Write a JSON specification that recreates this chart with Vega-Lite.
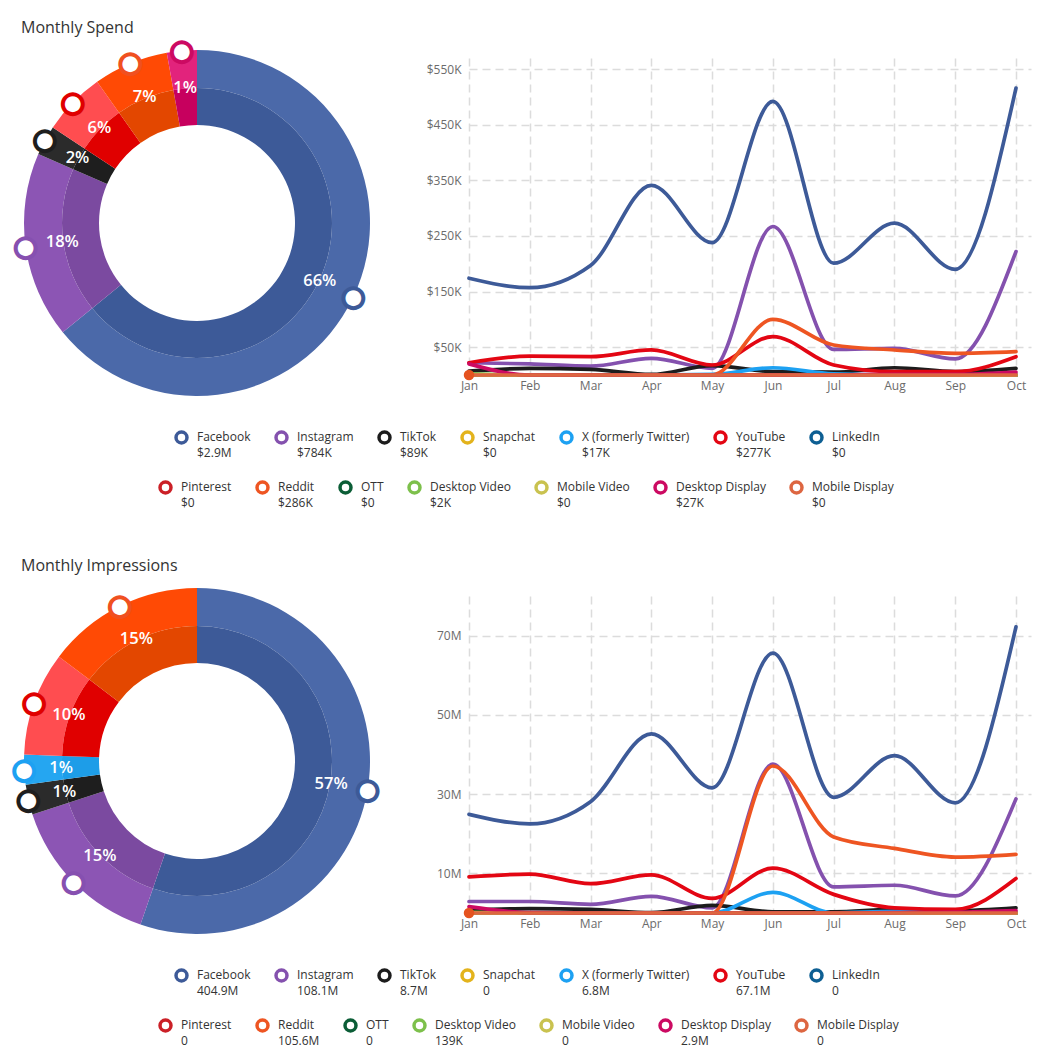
{
"$schema": "https://vega.github.io/schema/vega-lite/v6.json",
"background": "white",
"padding": {"left": 12, "top": 19, "right": 5, "bottom": 5},
"config": {
  "view": {"stroke": null},
  "font": "Open Sans",
  "axis": {"domain": false, "ticks": false, "labelFont": "Open Sans", "labelFontSize": 12, "labelColor": "#6b6b6b", "gridColor": "#dcdcdc", "gridDash": [8, 5], "gridWidth": 1.5, "labelFlush": false, "labelOverlap": false, "title": null},
  "axisY": {"labelPadding": 8},
  "axisX": {"labelPadding": 5},
  "legend": {"orient": "none", "direction": "horizontal", "columns": 7, "symbolType": "circle", "symbolSize": 120, "symbolStrokeWidth": 3.5, "symbolFillColor": "white", "labelFont": "Open Sans", "labelFontSize": 12, "labelColor": "#333333", "labelBaseline": "alphabetic", "columnPadding": 18, "labelOffset": 8, "padding": 0, "title": null, "labelLimit": 300},
  "title": {"font": "Open Sans", "fontSize": 16, "fontWeight": 500, "color": "#333333", "anchor": "start", "frame": "group"}
},
"datasets": {
  "spendTot": [{"c":"Facebook","t":"$2.9M"},{"c":"Instagram","t":"$784K"},{"c":"TikTok","t":"$89K"},{"c":"Snapchat","t":"$0"},{"c":"X (formerly Twitter)","t":"$17K"},{"c":"YouTube","t":"$277K"},{"c":"LinkedIn","t":"$0"},{"c":"Pinterest","t":"$0"},{"c":"Reddit","t":"$286K"},{"c":"OTT","t":"$0"},{"c":"Desktop Video","t":"$2K"},{"c":"Mobile Video","t":"$0"},{"c":"Desktop Display","t":"$27K"},{"c":"Mobile Display","t":"$0"}],
  "impTot": [{"c":"Facebook","t":"404.9M"},{"c":"Instagram","t":"108.1M"},{"c":"TikTok","t":"8.7M"},{"c":"Snapchat","t":"0"},{"c":"X (formerly Twitter)","t":"6.8M"},{"c":"YouTube","t":"67.1M"},{"c":"LinkedIn","t":"0"},{"c":"Pinterest","t":"0"},{"c":"Reddit","t":"105.6M"},{"c":"OTT","t":"0"},{"c":"Desktop Video","t":"139K"},{"c":"Mobile Video","t":"0"},{"c":"Desktop Display","t":"2.9M"},{"c":"Mobile Display","t":"0"}],
  "spendPie": [{"c":"Facebook","k":0,"s":64.2,"p":"66%"},{"c":"Instagram","k":1,"s":17.4,"p":"18%"},{"c":"TikTok","k":2,"s":2.8,"p":"2%"},{"c":"YouTube","k":5,"s":5.9,"p":"6%"},{"c":"Reddit","k":8,"s":7.0,"p":"7%"},{"c":"Desktop Display","k":12,"s":2.8,"p":"1%"}],
  "impPie": [{"c":"Facebook","k":0,"s":55.3,"p":"57%"},{"c":"Instagram","k":1,"s":14.7,"p":"15%"},{"c":"TikTok","k":2,"s":2.8,"p":"1%"},{"c":"X (formerly Twitter)","k":4,"s":2.8,"p":"1%"},{"c":"YouTube","k":5,"s":9.7,"p":"10%"},{"c":"Reddit","k":8,"s":14.7,"p":"15%"}],
  "spend": [
    {"c":"Facebook","i":0,"v":174},{"c":"Facebook","i":1,"v":157},{"c":"Facebook","i":2,"v":197},{"c":"Facebook","i":3,"v":341},{"c":"Facebook","i":4,"v":238},{"c":"Facebook","i":5,"v":492},{"c":"Facebook","i":6,"v":201},{"c":"Facebook","i":7,"v":273},{"c":"Facebook","i":8,"v":190},{"c":"Facebook","i":9,"v":516},
    {"c":"Instagram","i":0,"v":22},{"c":"Instagram","i":1,"v":20},{"c":"Instagram","i":2,"v":16},{"c":"Instagram","i":3,"v":30},{"c":"Instagram","i":4,"v":12},{"c":"Instagram","i":5,"v":267},{"c":"Instagram","i":6,"v":46},{"c":"Instagram","i":7,"v":48},{"c":"Instagram","i":8,"v":29},{"c":"Instagram","i":9,"v":222},
    {"c":"TikTok","i":0,"v":7},{"c":"TikTok","i":1,"v":12},{"c":"TikTok","i":2,"v":10},{"c":"TikTok","i":3,"v":1},{"c":"TikTok","i":4,"v":17},{"c":"TikTok","i":5,"v":6},{"c":"TikTok","i":6,"v":5},{"c":"TikTok","i":7,"v":13},{"c":"TikTok","i":8,"v":6},{"c":"TikTok","i":9,"v":12},
    {"c":"Snapchat","i":0,"v":0},{"c":"Snapchat","i":1,"v":0},{"c":"Snapchat","i":2,"v":0},{"c":"Snapchat","i":3,"v":0},{"c":"Snapchat","i":4,"v":0},{"c":"Snapchat","i":5,"v":0},{"c":"Snapchat","i":6,"v":0},{"c":"Snapchat","i":7,"v":0},{"c":"Snapchat","i":8,"v":0},{"c":"Snapchat","i":9,"v":0},
    {"c":"X (formerly Twitter)","i":0,"v":0},{"c":"X (formerly Twitter)","i":1,"v":0},{"c":"X (formerly Twitter)","i":2,"v":0},{"c":"X (formerly Twitter)","i":3,"v":0},{"c":"X (formerly Twitter)","i":4,"v":1},{"c":"X (formerly Twitter)","i":5,"v":13},{"c":"X (formerly Twitter)","i":6,"v":2},{"c":"X (formerly Twitter)","i":7,"v":0},{"c":"X (formerly Twitter)","i":8,"v":0},{"c":"X (formerly Twitter)","i":9,"v":0},
    {"c":"YouTube","i":0,"v":22},{"c":"YouTube","i":1,"v":34},{"c":"YouTube","i":2,"v":33},{"c":"YouTube","i":3,"v":45},{"c":"YouTube","i":4,"v":18},{"c":"YouTube","i":5,"v":69},{"c":"YouTube","i":6,"v":18},{"c":"YouTube","i":7,"v":6},{"c":"YouTube","i":8,"v":6},{"c":"YouTube","i":9,"v":33},
    {"c":"LinkedIn","i":0,"v":0},{"c":"LinkedIn","i":1,"v":0},{"c":"LinkedIn","i":2,"v":0},{"c":"LinkedIn","i":3,"v":0},{"c":"LinkedIn","i":4,"v":0},{"c":"LinkedIn","i":5,"v":0},{"c":"LinkedIn","i":6,"v":0},{"c":"LinkedIn","i":7,"v":0},{"c":"LinkedIn","i":8,"v":0},{"c":"LinkedIn","i":9,"v":0},
    {"c":"Pinterest","i":0,"v":0},{"c":"Pinterest","i":1,"v":0},{"c":"Pinterest","i":2,"v":0},{"c":"Pinterest","i":3,"v":0},{"c":"Pinterest","i":4,"v":0},{"c":"Pinterest","i":5,"v":0},{"c":"Pinterest","i":6,"v":0},{"c":"Pinterest","i":7,"v":0},{"c":"Pinterest","i":8,"v":0},{"c":"Pinterest","i":9,"v":0},
    {"c":"Reddit","i":0,"v":0},{"c":"Reddit","i":1,"v":0},{"c":"Reddit","i":2,"v":0},{"c":"Reddit","i":3,"v":0},{"c":"Reddit","i":4,"v":0},{"c":"Reddit","i":5,"v":100},{"c":"Reddit","i":6,"v":54},{"c":"Reddit","i":7,"v":45},{"c":"Reddit","i":8,"v":39},{"c":"Reddit","i":9,"v":42},
    {"c":"OTT","i":0,"v":0},{"c":"OTT","i":1,"v":0},{"c":"OTT","i":2,"v":0},{"c":"OTT","i":3,"v":0},{"c":"OTT","i":4,"v":0},{"c":"OTT","i":5,"v":0},{"c":"OTT","i":6,"v":0},{"c":"OTT","i":7,"v":0},{"c":"OTT","i":8,"v":0},{"c":"OTT","i":9,"v":0},
    {"c":"Desktop Video","i":0,"v":2},{"c":"Desktop Video","i":1,"v":0},{"c":"Desktop Video","i":2,"v":0},{"c":"Desktop Video","i":3,"v":0},{"c":"Desktop Video","i":4,"v":0},{"c":"Desktop Video","i":5,"v":0},{"c":"Desktop Video","i":6,"v":0},{"c":"Desktop Video","i":7,"v":0},{"c":"Desktop Video","i":8,"v":0},{"c":"Desktop Video","i":9,"v":0},
    {"c":"Mobile Video","i":0,"v":0},{"c":"Mobile Video","i":1,"v":0},{"c":"Mobile Video","i":2,"v":0},{"c":"Mobile Video","i":3,"v":0},{"c":"Mobile Video","i":4,"v":0},{"c":"Mobile Video","i":5,"v":0},{"c":"Mobile Video","i":6,"v":0},{"c":"Mobile Video","i":7,"v":0},{"c":"Mobile Video","i":8,"v":0},{"c":"Mobile Video","i":9,"v":0},
    {"c":"Desktop Display","i":0,"v":20},{"c":"Desktop Display","i":1,"v":0},{"c":"Desktop Display","i":2,"v":0},{"c":"Desktop Display","i":3,"v":0},{"c":"Desktop Display","i":4,"v":0},{"c":"Desktop Display","i":5,"v":0},{"c":"Desktop Display","i":6,"v":0},{"c":"Desktop Display","i":7,"v":1},{"c":"Desktop Display","i":8,"v":1},{"c":"Desktop Display","i":9,"v":5},
    {"c":"Mobile Display","i":0,"v":0},{"c":"Mobile Display","i":1,"v":0},{"c":"Mobile Display","i":2,"v":0},{"c":"Mobile Display","i":3,"v":0},{"c":"Mobile Display","i":4,"v":0},{"c":"Mobile Display","i":5,"v":0},{"c":"Mobile Display","i":6,"v":0},{"c":"Mobile Display","i":7,"v":0},{"c":"Mobile Display","i":8,"v":0},{"c":"Mobile Display","i":9,"v":0}
  ],
  "imp": [
    {"c":"Facebook","i":0,"v":24.9},{"c":"Facebook","i":1,"v":22.5},{"c":"Facebook","i":2,"v":28.1},{"c":"Facebook","i":3,"v":45.2},{"c":"Facebook","i":4,"v":31.6},{"c":"Facebook","i":5,"v":65.6},{"c":"Facebook","i":6,"v":29.2},{"c":"Facebook","i":7,"v":39.7},{"c":"Facebook","i":8,"v":27.8},{"c":"Facebook","i":9,"v":72.2},
    {"c":"Instagram","i":0,"v":2.9},{"c":"Instagram","i":1,"v":2.9},{"c":"Instagram","i":2,"v":2.2},{"c":"Instagram","i":3,"v":4.2},{"c":"Instagram","i":4,"v":1.3},{"c":"Instagram","i":5,"v":37.6},{"c":"Instagram","i":6,"v":6.6},{"c":"Instagram","i":7,"v":7.0},{"c":"Instagram","i":8,"v":4.3},{"c":"Instagram","i":9,"v":28.8},
    {"c":"TikTok","i":0,"v":0.7},{"c":"TikTok","i":1,"v":1.1},{"c":"TikTok","i":2,"v":0.9},{"c":"TikTok","i":3,"v":0.1},{"c":"TikTok","i":4,"v":1.9},{"c":"TikTok","i":5,"v":0.3},{"c":"TikTok","i":6,"v":0.3},{"c":"TikTok","i":7,"v":0.9},{"c":"TikTok","i":8,"v":0.6},{"c":"TikTok","i":9,"v":1.3},
    {"c":"Snapchat","i":0,"v":0},{"c":"Snapchat","i":1,"v":0},{"c":"Snapchat","i":2,"v":0},{"c":"Snapchat","i":3,"v":0},{"c":"Snapchat","i":4,"v":0},{"c":"Snapchat","i":5,"v":0},{"c":"Snapchat","i":6,"v":0},{"c":"Snapchat","i":7,"v":0},{"c":"Snapchat","i":8,"v":0},{"c":"Snapchat","i":9,"v":0},
    {"c":"X (formerly Twitter)","i":0,"v":0},{"c":"X (formerly Twitter)","i":1,"v":0},{"c":"X (formerly Twitter)","i":2,"v":0},{"c":"X (formerly Twitter)","i":3,"v":0},{"c":"X (formerly Twitter)","i":4,"v":0},{"c":"X (formerly Twitter)","i":5,"v":5.2},{"c":"X (formerly Twitter)","i":6,"v":0},{"c":"X (formerly Twitter)","i":7,"v":0.4},{"c":"X (formerly Twitter)","i":8,"v":0},{"c":"X (formerly Twitter)","i":9,"v":0},
    {"c":"YouTube","i":0,"v":9.1},{"c":"YouTube","i":1,"v":9.8},{"c":"YouTube","i":2,"v":7.4},{"c":"YouTube","i":3,"v":9.6},{"c":"YouTube","i":4,"v":3.7},{"c":"YouTube","i":5,"v":11.3},{"c":"YouTube","i":6,"v":4.7},{"c":"YouTube","i":7,"v":1.3},{"c":"YouTube","i":8,"v":0.9},{"c":"YouTube","i":9,"v":8.7},
    {"c":"LinkedIn","i":0,"v":0},{"c":"LinkedIn","i":1,"v":0},{"c":"LinkedIn","i":2,"v":0},{"c":"LinkedIn","i":3,"v":0},{"c":"LinkedIn","i":4,"v":0},{"c":"LinkedIn","i":5,"v":0},{"c":"LinkedIn","i":6,"v":0},{"c":"LinkedIn","i":7,"v":0},{"c":"LinkedIn","i":8,"v":0},{"c":"LinkedIn","i":9,"v":0},
    {"c":"Pinterest","i":0,"v":0},{"c":"Pinterest","i":1,"v":0},{"c":"Pinterest","i":2,"v":0},{"c":"Pinterest","i":3,"v":0},{"c":"Pinterest","i":4,"v":0},{"c":"Pinterest","i":5,"v":0},{"c":"Pinterest","i":6,"v":0},{"c":"Pinterest","i":7,"v":0},{"c":"Pinterest","i":8,"v":0},{"c":"Pinterest","i":9,"v":0},
    {"c":"Reddit","i":0,"v":0},{"c":"Reddit","i":1,"v":0},{"c":"Reddit","i":2,"v":0},{"c":"Reddit","i":3,"v":0},{"c":"Reddit","i":4,"v":0},{"c":"Reddit","i":5,"v":37.1},{"c":"Reddit","i":6,"v":19.2},{"c":"Reddit","i":7,"v":16.3},{"c":"Reddit","i":8,"v":14.1},{"c":"Reddit","i":9,"v":14.8},
    {"c":"OTT","i":0,"v":0},{"c":"OTT","i":1,"v":0},{"c":"OTT","i":2,"v":0},{"c":"OTT","i":3,"v":0},{"c":"OTT","i":4,"v":0},{"c":"OTT","i":5,"v":0},{"c":"OTT","i":6,"v":0},{"c":"OTT","i":7,"v":0},{"c":"OTT","i":8,"v":0},{"c":"OTT","i":9,"v":0},
    {"c":"Desktop Video","i":0,"v":0.14},{"c":"Desktop Video","i":1,"v":0},{"c":"Desktop Video","i":2,"v":0},{"c":"Desktop Video","i":3,"v":0},{"c":"Desktop Video","i":4,"v":0},{"c":"Desktop Video","i":5,"v":0},{"c":"Desktop Video","i":6,"v":0},{"c":"Desktop Video","i":7,"v":0},{"c":"Desktop Video","i":8,"v":0},{"c":"Desktop Video","i":9,"v":0},
    {"c":"Mobile Video","i":0,"v":0},{"c":"Mobile Video","i":1,"v":0},{"c":"Mobile Video","i":2,"v":0},{"c":"Mobile Video","i":3,"v":0},{"c":"Mobile Video","i":4,"v":0},{"c":"Mobile Video","i":5,"v":0},{"c":"Mobile Video","i":6,"v":0},{"c":"Mobile Video","i":7,"v":0},{"c":"Mobile Video","i":8,"v":0},{"c":"Mobile Video","i":9,"v":0},
    {"c":"Desktop Display","i":0,"v":1.6},{"c":"Desktop Display","i":1,"v":0.1},{"c":"Desktop Display","i":2,"v":0},{"c":"Desktop Display","i":3,"v":0},{"c":"Desktop Display","i":4,"v":0},{"c":"Desktop Display","i":5,"v":0},{"c":"Desktop Display","i":6,"v":0},{"c":"Desktop Display","i":7,"v":0.1},{"c":"Desktop Display","i":8,"v":0.2},{"c":"Desktop Display","i":9,"v":0.6},
    {"c":"Mobile Display","i":0,"v":0},{"c":"Mobile Display","i":1,"v":0},{"c":"Mobile Display","i":2,"v":0},{"c":"Mobile Display","i":3,"v":0},{"c":"Mobile Display","i":4,"v":0},{"c":"Mobile Display","i":5,"v":0},{"c":"Mobile Display","i":6,"v":0},{"c":"Mobile Display","i":7,"v":0},{"c":"Mobile Display","i":8,"v":0},{"c":"Mobile Display","i":9,"v":0}
  ]
},
"columns": 2,
"bounds": "flush",
"spacing": {"row": 208, "column": 99},
"resolve": {"scale": {"color": "independent", "stroke": "independent", "fill": "independent", "theta": "independent", "x": "independent", "y": "independent"}, "legend": {"color": "independent", "stroke": "independent"}},
"concat": [
  {
    "width": 346, "height": 330,
    "title": {"text": "Monthly Spend", "offset": 2, "dx": -3},
    "data": {"name": "spendPie"},
    "encoding": {
      "theta": {"field": "s", "type": "quantitative", "stack": true},
      "order": {"field": "k", "type": "quantitative"},
      "detail": {"field": "c", "type": "nominal"}
    },
    "layer": [
      {"mark": {"type": "arc", "outerRadius": 173, "innerRadius": 135}, "encoding": {"fill": {"field": "c", "type": "nominal", "legend": null, "scale": {"domain": ["Facebook","Instagram","TikTok","X (formerly Twitter)","YouTube","Reddit","Desktop Display"], "range": ["#4b69a9","#8c55b4","#2b2b2b","#25a6f1","#ff4d50","#ff4a05","#e2237c"]}}}},
      {"mark": {"type": "arc", "outerRadius": 135, "innerRadius": 98}, "encoding": {"color": {"field": "c", "type": "nominal", "legend": null, "scale": {"domain": ["Facebook","Instagram","TikTok","X (formerly Twitter)","YouTube","Reddit","Desktop Display"], "range": ["#3d5a98","#7b4aa0","#1e1e1e","#1d9de8","#e00000","#e34700","#c7005e"]}}}},
      {"mark": {"type": "text", "radius": 136, "fill": "white", "fontSize": 16.5, "fontWeight": 600, "font": "Open Sans", "align": "center", "baseline": "middle"}, "encoding": {"text": {"field": "p", "type": "nominal"}}},
      {"mark": {"type": "text", "radius": 173, "text": "●", "fill": "white", "strokeWidth": 4, "fontSize": 26, "font": "DejaVu Sans", "align": "center", "baseline": "middle"}, "encoding": {"stroke": {"field": "c", "type": "nominal", "legend": null, "scale": {"domain": ["Facebook","Instagram","TikTok","X (formerly Twitter)","YouTube","Reddit","Desktop Display"], "range": ["#3d5a98","#8650b0","#1e1e1e","#1da1f2","#e00000","#f05020","#cc0a62"]}}}}
    ]
  },
  {
    "width": 562, "height": 317,
    "data": {"name": "spend"},
    "transform": [
      {"lookup": "c", "from": {"data": {"name": "spendTot"}, "key": "c", "fields": ["t"]}},
      {"calculate": "datum.c + '|' + datum.t", "as": "key"}
    ],
    "encoding": {
      "x": {"field": "i", "type": "quantitative", "title": null, "scale": {"domain": [0, 9.247], "nice": false, "zero": false}, "axis": {"values": [0,1,2,3,4,5,6,7,8,9], "labelExpr": "['Jan','Feb','Mar','Apr','May','Jun','Jul','Aug','Sep','Oct'][datum.value]", "grid": true}},
      "y": {"field": "v", "type": "quantitative", "title": null, "scale": {"domain": [0, 570], "nice": false}, "axis": {"values": [50,150,250,350,450,550], "labelExpr": "'$' + datum.value + 'K'", "grid": true}}
    },
    "layer": [
      {"data": {"values": [{}]}, "mark": {"type": "rect", "stroke": "#b4dfee", "strokeWidth": 1, "fill": {"gradient": "linear", "x1": 0, "y1": 0, "x2": 0.0473, "y2": 1, "stops": [
        {"offset":0,"color":"#a9d9ea"},{"offset":0.008,"color":"#a9d9ea"},{"offset":0.008,"color":"#ffffff"},{"offset":0.025,"color":"#ffffff"},
        {"offset":0.025,"color":"#a9d9ea"},{"offset":0.033,"color":"#a9d9ea"},{"offset":0.033,"color":"#ffffff"},{"offset":0.05,"color":"#ffffff"},
        {"offset":0.05,"color":"#a9d9ea"},{"offset":0.058,"color":"#a9d9ea"},{"offset":0.058,"color":"#ffffff"},{"offset":0.075,"color":"#ffffff"},
        {"offset":0.075,"color":"#a9d9ea"},{"offset":0.083,"color":"#a9d9ea"},{"offset":0.083,"color":"#ffffff"},{"offset":0.1,"color":"#ffffff"},
        {"offset":0.1,"color":"#a9d9ea"},{"offset":0.108,"color":"#a9d9ea"},{"offset":0.108,"color":"#ffffff"},{"offset":0.125,"color":"#ffffff"},
        {"offset":0.125,"color":"#a9d9ea"},{"offset":0.133,"color":"#a9d9ea"},{"offset":0.133,"color":"#ffffff"},{"offset":0.15,"color":"#ffffff"},
        {"offset":0.15,"color":"#a9d9ea"},{"offset":0.158,"color":"#a9d9ea"},{"offset":0.158,"color":"#ffffff"},{"offset":0.175,"color":"#ffffff"},
        {"offset":0.175,"color":"#a9d9ea"},{"offset":0.183,"color":"#a9d9ea"},{"offset":0.183,"color":"#ffffff"},{"offset":0.2,"color":"#ffffff"},
        {"offset":0.2,"color":"#a9d9ea"},{"offset":0.208,"color":"#a9d9ea"},{"offset":0.208,"color":"#ffffff"},{"offset":0.225,"color":"#ffffff"},
        {"offset":0.225,"color":"#a9d9ea"},{"offset":0.233,"color":"#a9d9ea"},{"offset":0.233,"color":"#ffffff"},{"offset":0.25,"color":"#ffffff"},
        {"offset":0.25,"color":"#a9d9ea"},{"offset":0.258,"color":"#a9d9ea"},{"offset":0.258,"color":"#ffffff"},{"offset":0.275,"color":"#ffffff"},
        {"offset":0.275,"color":"#a9d9ea"},{"offset":0.283,"color":"#a9d9ea"},{"offset":0.283,"color":"#ffffff"},{"offset":0.3,"color":"#ffffff"},
        {"offset":0.3,"color":"#a9d9ea"},{"offset":0.308,"color":"#a9d9ea"},{"offset":0.308,"color":"#ffffff"},{"offset":0.325,"color":"#ffffff"},
        {"offset":0.325,"color":"#a9d9ea"},{"offset":0.333,"color":"#a9d9ea"},{"offset":0.333,"color":"#ffffff"},{"offset":0.35,"color":"#ffffff"},
        {"offset":0.35,"color":"#a9d9ea"},{"offset":0.358,"color":"#a9d9ea"},{"offset":0.358,"color":"#ffffff"},{"offset":0.375,"color":"#ffffff"},
        {"offset":0.375,"color":"#a9d9ea"},{"offset":0.383,"color":"#a9d9ea"},{"offset":0.383,"color":"#ffffff"},{"offset":0.4,"color":"#ffffff"},
        {"offset":0.4,"color":"#a9d9ea"},{"offset":0.408,"color":"#a9d9ea"},{"offset":0.408,"color":"#ffffff"},{"offset":0.425,"color":"#ffffff"},
        {"offset":0.425,"color":"#a9d9ea"},{"offset":0.433,"color":"#a9d9ea"},{"offset":0.433,"color":"#ffffff"},{"offset":0.45,"color":"#ffffff"},
        {"offset":0.45,"color":"#a9d9ea"},{"offset":0.458,"color":"#a9d9ea"},{"offset":0.458,"color":"#ffffff"},{"offset":0.475,"color":"#ffffff"},
        {"offset":0.475,"color":"#a9d9ea"},{"offset":0.483,"color":"#a9d9ea"},{"offset":0.483,"color":"#ffffff"},{"offset":0.5,"color":"#ffffff"},
        {"offset":0.5,"color":"#a9d9ea"},{"offset":0.508,"color":"#a9d9ea"},{"offset":0.508,"color":"#ffffff"},{"offset":0.525,"color":"#ffffff"},
        {"offset":0.525,"color":"#a9d9ea"},{"offset":0.533,"color":"#a9d9ea"},{"offset":0.533,"color":"#ffffff"},{"offset":0.55,"color":"#ffffff"},
        {"offset":0.55,"color":"#a9d9ea"},{"offset":0.558,"color":"#a9d9ea"},{"offset":0.558,"color":"#ffffff"},{"offset":0.575,"color":"#ffffff"},
        {"offset":0.575,"color":"#a9d9ea"},{"offset":0.583,"color":"#a9d9ea"},{"offset":0.583,"color":"#ffffff"},{"offset":0.6,"color":"#ffffff"},
        {"offset":0.6,"color":"#a9d9ea"},{"offset":0.608,"color":"#a9d9ea"},{"offset":0.608,"color":"#ffffff"},{"offset":0.625,"color":"#ffffff"},
        {"offset":0.625,"color":"#a9d9ea"},{"offset":0.633,"color":"#a9d9ea"},{"offset":0.633,"color":"#ffffff"},{"offset":0.65,"color":"#ffffff"},
        {"offset":0.65,"color":"#a9d9ea"},{"offset":0.658,"color":"#a9d9ea"},{"offset":0.658,"color":"#ffffff"},{"offset":0.675,"color":"#ffffff"},
        {"offset":0.675,"color":"#a9d9ea"},{"offset":0.683,"color":"#a9d9ea"},{"offset":0.683,"color":"#ffffff"},{"offset":0.7,"color":"#ffffff"},
        {"offset":0.7,"color":"#a9d9ea"},{"offset":0.708,"color":"#a9d9ea"},{"offset":0.708,"color":"#ffffff"},{"offset":0.725,"color":"#ffffff"},
        {"offset":0.725,"color":"#a9d9ea"},{"offset":0.733,"color":"#a9d9ea"},{"offset":0.733,"color":"#ffffff"},{"offset":0.75,"color":"#ffffff"},
        {"offset":0.75,"color":"#a9d9ea"},{"offset":0.758,"color":"#a9d9ea"},{"offset":0.758,"color":"#ffffff"},{"offset":0.775,"color":"#ffffff"},
        {"offset":0.775,"color":"#a9d9ea"},{"offset":0.783,"color":"#a9d9ea"},{"offset":0.783,"color":"#ffffff"},{"offset":0.8,"color":"#ffffff"},
        {"offset":0.8,"color":"#a9d9ea"},{"offset":0.808,"color":"#a9d9ea"},{"offset":0.808,"color":"#ffffff"},{"offset":0.825,"color":"#ffffff"},
        {"offset":0.825,"color":"#a9d9ea"},{"offset":0.833,"color":"#a9d9ea"},{"offset":0.833,"color":"#ffffff"},{"offset":0.85,"color":"#ffffff"},
        {"offset":0.85,"color":"#a9d9ea"},{"offset":0.858,"color":"#a9d9ea"},{"offset":0.858,"color":"#ffffff"},{"offset":0.875,"color":"#ffffff"},
        {"offset":0.875,"color":"#a9d9ea"},{"offset":0.883,"color":"#a9d9ea"},{"offset":0.883,"color":"#ffffff"},{"offset":0.9,"color":"#ffffff"},
        {"offset":0.9,"color":"#a9d9ea"},{"offset":0.908,"color":"#a9d9ea"},{"offset":0.908,"color":"#ffffff"},{"offset":0.925,"color":"#ffffff"},
        {"offset":0.925,"color":"#a9d9ea"},{"offset":0.933,"color":"#a9d9ea"},{"offset":0.933,"color":"#ffffff"},{"offset":0.95,"color":"#ffffff"},
        {"offset":0.95,"color":"#a9d9ea"},{"offset":0.958,"color":"#a9d9ea"},{"offset":0.958,"color":"#ffffff"},{"offset":0.975,"color":"#ffffff"},
        {"offset":0.975,"color":"#a9d9ea"},{"offset":0.983,"color":"#a9d9ea"},{"offset":0.983,"color":"#ffffff"},{"offset":1,"color":"#ffffff"}
      ]}}, "encoding": {"x": {"datum": 9}, "x2": {"datum": 9.247}, "y": {"datum": 0}, "y2": {"datum": 570}}},
      {"transform": [{"filter": {"field": "c", "oneOf": ["Facebook","Instagram","TikTok","Snapchat","X (formerly Twitter)","YouTube","LinkedIn"]}}],
       "mark": {"type": "line", "interpolate": "monotone", "strokeWidth": 3.7, "strokeCap": "round"},
       "encoding": {"stroke": {"field": "key", "type": "nominal", "sort": null, "scale": {"range": ["#3d5a98","#8451ae","#1c1c1c","#e3b31c","#1da1f2","#e30613","#0e5f93"]}, "legend": {"legendX": -295, "legendY": 372, "labelExpr": "split(datum.label, '|')", "encoding": {"labels": {"dy": {"value": 3}, "lineHeight": {"value": 16.5}}}}}}},
      {"transform": [{"filter": {"field": "c", "oneOf": ["Pinterest","Reddit","OTT","Desktop Video","Mobile Video","Desktop Display","Mobile Display"]}}],
       "mark": {"type": "line", "interpolate": "monotone", "strokeWidth": 3.7, "strokeCap": "round"},
       "encoding": {"color": {"field": "key", "type": "nominal", "sort": null, "scale": {"range": ["#cb2027","#ee5522","#0b5d36","#7dc04b","#c9c24f","#cc0a62","#dd6641"]}, "legend": {"legendX": -311, "legendY": 422, "labelExpr": "split(datum.label, '|')", "encoding": {"labels": {"dy": {"value": 3}, "lineHeight": {"value": 16.5}}}}}}},
      {"transform": [{"filter": "datum.c == 'Mobile Display' && datum.i == 0"}], "mark": {"type": "point", "filled": true, "size": 110, "color": "#e5531f", "opacity": 1}}
    ]
  },
  {
    "width": 346, "height": 330,
    "title": {"text": "Monthly Impressions", "offset": 14, "dx": -3},
    "data": {"name": "impPie"},
    "encoding": {
      "theta": {"field": "s", "type": "quantitative", "stack": true},
      "order": {"field": "k", "type": "quantitative"},
      "detail": {"field": "c", "type": "nominal"}
    },
    "layer": [
      {"mark": {"type": "arc", "outerRadius": 173, "innerRadius": 135}, "encoding": {"fill": {"field": "c", "type": "nominal", "legend": null, "scale": {"domain": ["Facebook","Instagram","TikTok","X (formerly Twitter)","YouTube","Reddit","Desktop Display"], "range": ["#4b69a9","#8c55b4","#2b2b2b","#25a6f1","#ff4d50","#ff4a05","#e2237c"]}}}},
      {"mark": {"type": "arc", "outerRadius": 135, "innerRadius": 98}, "encoding": {"color": {"field": "c", "type": "nominal", "legend": null, "scale": {"domain": ["Facebook","Instagram","TikTok","X (formerly Twitter)","YouTube","Reddit","Desktop Display"], "range": ["#3d5a98","#7b4aa0","#1e1e1e","#1d9de8","#e00000","#e34700","#c7005e"]}}}},
      {"mark": {"type": "text", "radius": 136, "fill": "white", "fontSize": 16.5, "fontWeight": 600, "font": "Open Sans", "align": "center", "baseline": "middle"}, "encoding": {"text": {"field": "p", "type": "nominal"}}},
      {"mark": {"type": "text", "radius": 173, "text": "●", "fill": "white", "strokeWidth": 4, "fontSize": 26, "font": "DejaVu Sans", "align": "center", "baseline": "middle"}, "encoding": {"stroke": {"field": "c", "type": "nominal", "legend": null, "scale": {"domain": ["Facebook","Instagram","TikTok","X (formerly Twitter)","YouTube","Reddit","Desktop Display"], "range": ["#3d5a98","#8650b0","#1e1e1e","#1da1f2","#e00000","#f05020","#cc0a62"]}}}}
    ]
  },
  {
    "width": 562, "height": 317,
    "data": {"name": "imp"},
    "transform": [
      {"lookup": "c", "from": {"data": {"name": "impTot"}, "key": "c", "fields": ["t"]}},
      {"calculate": "datum.c + '|' + datum.t", "as": "key"}
    ],
    "encoding": {
      "x": {"field": "i", "type": "quantitative", "title": null, "scale": {"domain": [0, 9.247], "nice": false, "zero": false}, "axis": {"values": [0,1,2,3,4,5,6,7,8,9], "labelExpr": "['Jan','Feb','Mar','Apr','May','Jun','Jul','Aug','Sep','Oct'][datum.value]", "grid": true}},
      "y": {"field": "v", "type": "quantitative", "title": null, "scale": {"domain": [0, 80], "nice": false}, "axis": {"values": [10,30,50,70], "labelExpr": "datum.value + 'M'", "grid": true}}
    },
    "layer": [
      {"data": {"values": [{}]}, "mark": {"type": "rect", "stroke": "#b4dfee", "strokeWidth": 1, "fill": {"gradient": "linear", "x1": 0, "y1": 0, "x2": 0.0473, "y2": 1, "stops": [
        {"offset":0,"color":"#a9d9ea"},{"offset":0.008,"color":"#a9d9ea"},{"offset":0.008,"color":"#ffffff"},{"offset":0.025,"color":"#ffffff"},
        {"offset":0.025,"color":"#a9d9ea"},{"offset":0.033,"color":"#a9d9ea"},{"offset":0.033,"color":"#ffffff"},{"offset":0.05,"color":"#ffffff"},
        {"offset":0.05,"color":"#a9d9ea"},{"offset":0.058,"color":"#a9d9ea"},{"offset":0.058,"color":"#ffffff"},{"offset":0.075,"color":"#ffffff"},
        {"offset":0.075,"color":"#a9d9ea"},{"offset":0.083,"color":"#a9d9ea"},{"offset":0.083,"color":"#ffffff"},{"offset":0.1,"color":"#ffffff"},
        {"offset":0.1,"color":"#a9d9ea"},{"offset":0.108,"color":"#a9d9ea"},{"offset":0.108,"color":"#ffffff"},{"offset":0.125,"color":"#ffffff"},
        {"offset":0.125,"color":"#a9d9ea"},{"offset":0.133,"color":"#a9d9ea"},{"offset":0.133,"color":"#ffffff"},{"offset":0.15,"color":"#ffffff"},
        {"offset":0.15,"color":"#a9d9ea"},{"offset":0.158,"color":"#a9d9ea"},{"offset":0.158,"color":"#ffffff"},{"offset":0.175,"color":"#ffffff"},
        {"offset":0.175,"color":"#a9d9ea"},{"offset":0.183,"color":"#a9d9ea"},{"offset":0.183,"color":"#ffffff"},{"offset":0.2,"color":"#ffffff"},
        {"offset":0.2,"color":"#a9d9ea"},{"offset":0.208,"color":"#a9d9ea"},{"offset":0.208,"color":"#ffffff"},{"offset":0.225,"color":"#ffffff"},
        {"offset":0.225,"color":"#a9d9ea"},{"offset":0.233,"color":"#a9d9ea"},{"offset":0.233,"color":"#ffffff"},{"offset":0.25,"color":"#ffffff"},
        {"offset":0.25,"color":"#a9d9ea"},{"offset":0.258,"color":"#a9d9ea"},{"offset":0.258,"color":"#ffffff"},{"offset":0.275,"color":"#ffffff"},
        {"offset":0.275,"color":"#a9d9ea"},{"offset":0.283,"color":"#a9d9ea"},{"offset":0.283,"color":"#ffffff"},{"offset":0.3,"color":"#ffffff"},
        {"offset":0.3,"color":"#a9d9ea"},{"offset":0.308,"color":"#a9d9ea"},{"offset":0.308,"color":"#ffffff"},{"offset":0.325,"color":"#ffffff"},
        {"offset":0.325,"color":"#a9d9ea"},{"offset":0.333,"color":"#a9d9ea"},{"offset":0.333,"color":"#ffffff"},{"offset":0.35,"color":"#ffffff"},
        {"offset":0.35,"color":"#a9d9ea"},{"offset":0.358,"color":"#a9d9ea"},{"offset":0.358,"color":"#ffffff"},{"offset":0.375,"color":"#ffffff"},
        {"offset":0.375,"color":"#a9d9ea"},{"offset":0.383,"color":"#a9d9ea"},{"offset":0.383,"color":"#ffffff"},{"offset":0.4,"color":"#ffffff"},
        {"offset":0.4,"color":"#a9d9ea"},{"offset":0.408,"color":"#a9d9ea"},{"offset":0.408,"color":"#ffffff"},{"offset":0.425,"color":"#ffffff"},
        {"offset":0.425,"color":"#a9d9ea"},{"offset":0.433,"color":"#a9d9ea"},{"offset":0.433,"color":"#ffffff"},{"offset":0.45,"color":"#ffffff"},
        {"offset":0.45,"color":"#a9d9ea"},{"offset":0.458,"color":"#a9d9ea"},{"offset":0.458,"color":"#ffffff"},{"offset":0.475,"color":"#ffffff"},
        {"offset":0.475,"color":"#a9d9ea"},{"offset":0.483,"color":"#a9d9ea"},{"offset":0.483,"color":"#ffffff"},{"offset":0.5,"color":"#ffffff"},
        {"offset":0.5,"color":"#a9d9ea"},{"offset":0.508,"color":"#a9d9ea"},{"offset":0.508,"color":"#ffffff"},{"offset":0.525,"color":"#ffffff"},
        {"offset":0.525,"color":"#a9d9ea"},{"offset":0.533,"color":"#a9d9ea"},{"offset":0.533,"color":"#ffffff"},{"offset":0.55,"color":"#ffffff"},
        {"offset":0.55,"color":"#a9d9ea"},{"offset":0.558,"color":"#a9d9ea"},{"offset":0.558,"color":"#ffffff"},{"offset":0.575,"color":"#ffffff"},
        {"offset":0.575,"color":"#a9d9ea"},{"offset":0.583,"color":"#a9d9ea"},{"offset":0.583,"color":"#ffffff"},{"offset":0.6,"color":"#ffffff"},
        {"offset":0.6,"color":"#a9d9ea"},{"offset":0.608,"color":"#a9d9ea"},{"offset":0.608,"color":"#ffffff"},{"offset":0.625,"color":"#ffffff"},
        {"offset":0.625,"color":"#a9d9ea"},{"offset":0.633,"color":"#a9d9ea"},{"offset":0.633,"color":"#ffffff"},{"offset":0.65,"color":"#ffffff"},
        {"offset":0.65,"color":"#a9d9ea"},{"offset":0.658,"color":"#a9d9ea"},{"offset":0.658,"color":"#ffffff"},{"offset":0.675,"color":"#ffffff"},
        {"offset":0.675,"color":"#a9d9ea"},{"offset":0.683,"color":"#a9d9ea"},{"offset":0.683,"color":"#ffffff"},{"offset":0.7,"color":"#ffffff"},
        {"offset":0.7,"color":"#a9d9ea"},{"offset":0.708,"color":"#a9d9ea"},{"offset":0.708,"color":"#ffffff"},{"offset":0.725,"color":"#ffffff"},
        {"offset":0.725,"color":"#a9d9ea"},{"offset":0.733,"color":"#a9d9ea"},{"offset":0.733,"color":"#ffffff"},{"offset":0.75,"color":"#ffffff"},
        {"offset":0.75,"color":"#a9d9ea"},{"offset":0.758,"color":"#a9d9ea"},{"offset":0.758,"color":"#ffffff"},{"offset":0.775,"color":"#ffffff"},
        {"offset":0.775,"color":"#a9d9ea"},{"offset":0.783,"color":"#a9d9ea"},{"offset":0.783,"color":"#ffffff"},{"offset":0.8,"color":"#ffffff"},
        {"offset":0.8,"color":"#a9d9ea"},{"offset":0.808,"color":"#a9d9ea"},{"offset":0.808,"color":"#ffffff"},{"offset":0.825,"color":"#ffffff"},
        {"offset":0.825,"color":"#a9d9ea"},{"offset":0.833,"color":"#a9d9ea"},{"offset":0.833,"color":"#ffffff"},{"offset":0.85,"color":"#ffffff"},
        {"offset":0.85,"color":"#a9d9ea"},{"offset":0.858,"color":"#a9d9ea"},{"offset":0.858,"color":"#ffffff"},{"offset":0.875,"color":"#ffffff"},
        {"offset":0.875,"color":"#a9d9ea"},{"offset":0.883,"color":"#a9d9ea"},{"offset":0.883,"color":"#ffffff"},{"offset":0.9,"color":"#ffffff"},
        {"offset":0.9,"color":"#a9d9ea"},{"offset":0.908,"color":"#a9d9ea"},{"offset":0.908,"color":"#ffffff"},{"offset":0.925,"color":"#ffffff"},
        {"offset":0.925,"color":"#a9d9ea"},{"offset":0.933,"color":"#a9d9ea"},{"offset":0.933,"color":"#ffffff"},{"offset":0.95,"color":"#ffffff"},
        {"offset":0.95,"color":"#a9d9ea"},{"offset":0.958,"color":"#a9d9ea"},{"offset":0.958,"color":"#ffffff"},{"offset":0.975,"color":"#ffffff"},
        {"offset":0.975,"color":"#a9d9ea"},{"offset":0.983,"color":"#a9d9ea"},{"offset":0.983,"color":"#ffffff"},{"offset":1,"color":"#ffffff"}
      ]}}, "encoding": {"x": {"datum": 9}, "x2": {"datum": 9.247}, "y": {"datum": 0}, "y2": {"datum": 80}}},
      {"transform": [{"filter": {"field": "c", "oneOf": ["Facebook","Instagram","TikTok","Snapchat","X (formerly Twitter)","YouTube","LinkedIn"]}}],
       "mark": {"type": "line", "interpolate": "monotone", "strokeWidth": 3.7, "strokeCap": "round"},
       "encoding": {"stroke": {"field": "key", "type": "nominal", "sort": null, "scale": {"range": ["#3d5a98","#8451ae","#1c1c1c","#e3b31c","#1da1f2","#e30613","#0e5f93"]}, "legend": {"legendX": -295, "legendY": 372, "labelExpr": "split(datum.label, '|')", "encoding": {"labels": {"dy": {"value": 3}, "lineHeight": {"value": 16.5}}}}}}},
      {"transform": [{"filter": {"field": "c", "oneOf": ["Pinterest","Reddit","OTT","Desktop Video","Mobile Video","Desktop Display","Mobile Display"]}}],
       "mark": {"type": "line", "interpolate": "monotone", "strokeWidth": 3.7, "strokeCap": "round"},
       "encoding": {"color": {"field": "key", "type": "nominal", "sort": null, "scale": {"range": ["#cb2027","#ee5522","#0b5d36","#7dc04b","#c9c24f","#cc0a62","#dd6641"]}, "legend": {"legendX": -311, "legendY": 422, "labelExpr": "split(datum.label, '|')", "encoding": {"labels": {"dy": {"value": 3}, "lineHeight": {"value": 16.5}}}}}}},
      {"transform": [{"filter": "datum.c == 'Mobile Display' && datum.i == 0"}], "mark": {"type": "point", "filled": true, "size": 110, "color": "#e5531f", "opacity": 1}}
    ]
  }
]
}
